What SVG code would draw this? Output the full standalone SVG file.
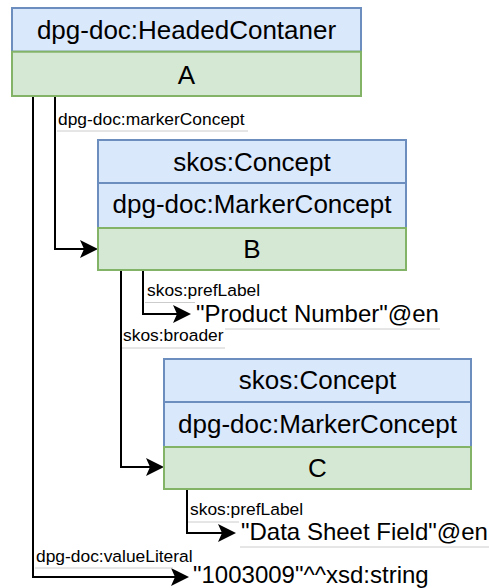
<svg xmlns="http://www.w3.org/2000/svg" width="489" height="588" viewBox="0 0 489 588">
<style>
.bg{fill:#ffffff}
.hdr{fill:#dae8fc;stroke:#6c8ebf;stroke-width:2}
.inst{fill:#d5e8d4;stroke:#82b366;stroke-width:2}
.nt{font-family:"Liberation Sans",Arial,sans-serif;font-size:26px;fill:#000;text-anchor:middle}
.vt{font-family:"Liberation Sans",Arial,sans-serif;font-size:24px;fill:#000}
.lt{font-family:"Liberation Sans",Arial,sans-serif;font-size:17.4px;fill:#000}
.edge{fill:none;stroke:#000;stroke-width:2}
.ul{stroke:#cccccc;stroke-width:1}
</style>
<defs>
<marker id="arr" markerUnits="userSpaceOnUse" viewBox="0 0 18 18" markerWidth="18" markerHeight="18" refX="4" refY="9" orient="auto">
<path d="M0,0 L18,9 L0,18 L4,9 Z" fill="#000"/>
</marker>
</defs>
<rect class="bg" x="0" y="0" width="489" height="588"/>
<g id="connectors">
<path class="edge" d="M55,97 V249 H84" marker-end="url(#arr)"/>
<path class="edge" d="M33,97 V577 H175" marker-end="url(#arr)"/>
<path class="edge" d="M143,271 V314 H177" marker-end="url(#arr)"/>
<path class="edge" d="M121,271 V467 H150" marker-end="url(#arr)"/>
<path class="edge" d="M187,490 V533 H222" marker-end="url(#arr)"/>
<line class="ul" x1="57" y1="131" x2="248" y2="131"/>
<text class="lt" x="58" y="125">dpg-doc:markerConcept</text>
<line class="ul" x1="145" y1="302.5" x2="195" y2="302.5"/>
<text class="lt" x="147" y="295.5">skos:prefLabel</text>
<line class="ul" x1="122" y1="348" x2="225" y2="348"/>
<text class="lt" x="123" y="341">skos:broader</text>
<line class="ul" x1="188" y1="522" x2="239" y2="522"/>
<text class="lt" x="190" y="515">skos:prefLabel</text>
<line class="ul" x1="35" y1="568" x2="173" y2="568"/>
<text class="lt" x="36" y="562">dpg-doc:valueLiteral</text>
</g>
<g id="nodeA">
<rect class="hdr" x="12" y="8" width="349" height="43.7"/>
<rect class="inst" x="12" y="51.7" width="349" height="44.3"/>
<text class="nt" x="186.5" y="38.5">dpg-doc:HeadedContaner</text>
<text class="nt" x="186.5" y="83.5">A</text>
</g>
<g id="nodeB">
<rect class="hdr" x="98" y="140" width="308" height="43"/>
<rect class="hdr" x="98" y="183" width="308" height="45"/>
<rect class="inst" x="98" y="228" width="308" height="42"/>
<text class="nt" x="252" y="170.5">skos:Concept</text>
<text class="nt" x="252" y="213">dpg-doc:MarkerConcept</text>
<text class="nt" x="252" y="258.3">B</text>
</g>
<g id="nodeC">
<rect class="hdr" x="164" y="359" width="307" height="43"/>
<rect class="hdr" x="164" y="402" width="307" height="45"/>
<rect class="inst" x="164" y="447" width="307" height="42"/>
<text class="nt" x="317.5" y="388.5">skos:Concept</text>
<text class="nt" x="317.5" y="433.3">dpg-doc:MarkerConcept</text>
<text class="nt" x="317.5" y="476.7">C</text>
</g>
<g id="litProduct">
<line class="ul" x1="225" y1="329" x2="440" y2="329"/>
<text class="vt" x="196" y="321.7">"Product Number"@en</text>
</g>
<g id="litData">
<line class="ul" x1="240" y1="547" x2="489" y2="547"/>
<text class="vt" x="241" y="540">"Data Sheet Field"@en</text>
</g>
<g id="litValue">
<text class="vt" x="193" y="582.5">"1003009"^^xsd:string</text>
</g>
</svg>
